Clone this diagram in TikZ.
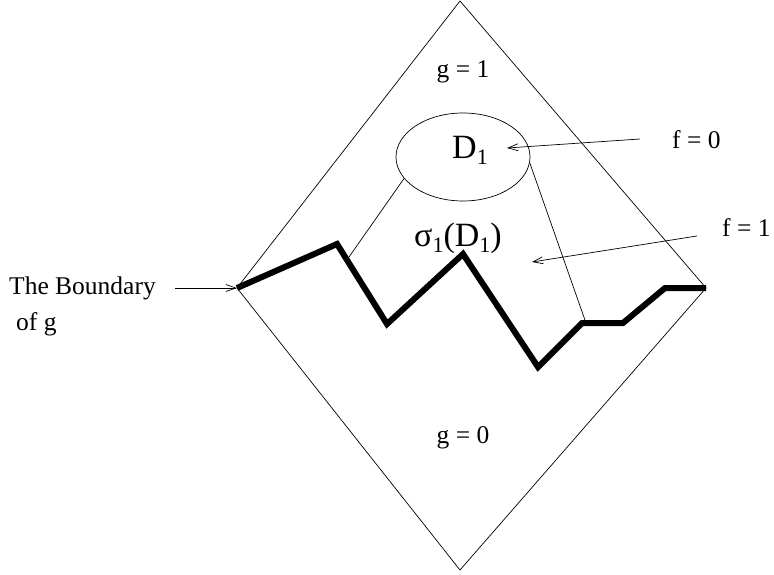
\documentclass[tikz,border=0pt]{standalone}
\usepackage{fontspec}
\setmainfont{Liberation Serif}
\usetikzlibrary{shapes.geometric,arrows.meta}
\newcommand{\lowsub}[1]{\raisebox{-0.18em}{\fontsize{22}{24}\selectfont #1}}
\begin{document}
\begin{tikzpicture}[x=1pt,y=-1pt,
  thinline/.style={line width=0.7pt,black},
  thickline/.style={line width=6pt,black,line join=miter},
  ptr/.style={thinline,-{Straight Barb[length=10pt,width=7pt]}},
  lbl/.style={font=\fontsize{25.5}{28}\selectfont,inner sep=0pt},
  biglbl/.style={font=\fontsize{34}{36}\selectfont,inner sep=0pt}]
\useasboundingbox (0,0) rectangle (774,575);
% diamond
\coordinate (top) at (460,1);
\coordinate (left) at (237,288);
\coordinate (right) at (706,288);
\coordinate (bottom) at (460,570);
\draw[thinline] (top) -- (left) -- (bottom) -- (right) -- cycle;
% boundary path
\coordinate (p1) at (337,244);
\coordinate (p2) at (387,324);
\coordinate (p3) at (463,254);
\coordinate (p4) at (538,367);
\coordinate (p5) at (582,323);
\coordinate (p6) at (623,323);
\coordinate (p7) at (665,288);
\draw[thickline] (left) -- (p1) -- (p2) -- (p3) -- (p4) -- (p5) -- (p6) -- (p7) -- (right);
% ellipse D1
\node[draw,thinline,ellipse,minimum width=134pt,minimum height=88pt,inner sep=0pt] (D) at (463,157) {};
\node[biglbl] (Dlab) at (470,150) {D\lowsub{1}};
% projection lines
\coordinate (s1) at (349,257);
\coordinate (s2) at (586,323);
\draw[thinline] (D.200) -- (s1);
\draw[thinline] (D.-5) -- (s2);
% labels
\node[lbl] (g1) at (463,72) {g = 1};
\node[lbl] (g0) at (463,438) {g = 0};
\node[biglbl] (sig) at (458,238) {σ\lowsub{1}(D\lowsub{1})};
\node[lbl,anchor=west] (f0) at (672,140) {f = 0};
\node[lbl,anchor=west] (f1) at (722,228) {f = 1};
\coordinate (f0s) at (640,139);
\coordinate (f0e) at (507,148);
\coordinate (f1s) at (697,236);
\coordinate (f1e) at (532,262);
\draw[ptr] (f0s) -- (f0e);
\draw[ptr] (f1s) -- (f1e);
\node[lbl,anchor=west] (bd) at (9,288) {The Boundary};
\node[lbl,anchor=west] (ofg) at (16,324) {of g};
\coordinate (bs) at (175,288);
\draw[ptr] (bs) -- (left);
\end{tikzpicture}
\end{document}
